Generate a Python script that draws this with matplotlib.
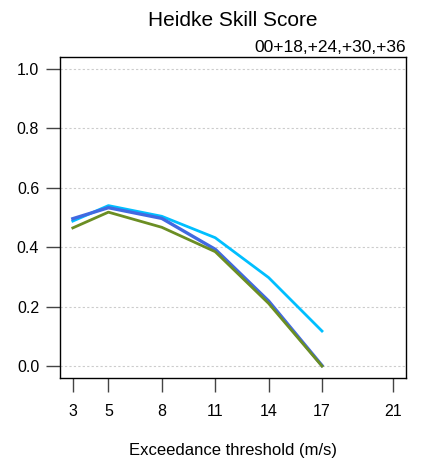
import matplotlib
matplotlib.use("Agg")
import matplotlib.pyplot as plt

plt.rcParams['font.family'] = ['Liberation Sans', 'DejaVu Sans']

thresholds = [3, 5, 8, 11, 14, 17]
xticks = [3, 5, 8, 11, 14, 17, 21]
yticks = [0.0, 0.2, 0.4, 0.6, 0.8, 1.0]
series_cyan = [0.488, 0.540, 0.504, 0.432, 0.298, 0.118]
series_blue = [0.496, 0.533, 0.497, 0.393, 0.219, 0.002]
series_green = [0.465, 0.518, 0.467, 0.385, 0.211, 0.0]

fig = plt.figure(figsize=(4.23, 4.61), dpi=100)
ax = fig.add_axes([60/423, 1-378/461, 346/423, 321/461])

for yv in yticks:
    ax.axhline(yv, color='#cccccc', lw=0.8, ls=(0, (2, 2)), zorder=0)

ax.plot(thresholds, series_green, color='#6B8E23', lw=2.0, zorder=3)
ax.plot(thresholds, series_blue, color='#4169E1', lw=2.4, zorder=2)
ax.plot(thresholds, series_cyan, color='#00BFFF', lw=2.0, zorder=1)

ax.set_xlim(3 - 0.72, 21 + 0.72)
ax.set_ylim(-0.04, 1.04)
ax.set_xticks(xticks)
ax.set_xticklabels([str(v) for v in xticks])
ax.set_yticks(yticks)
ax.set_yticklabels([f"{v:.1f}" for v in yticks])
for s in ax.spines.values():
    s.set_linewidth(1.0)
    s.set_color('black')
ax.tick_params(axis='x', length=10, width=1, color='#444444', labelsize=11.5, pad=9)
ax.tick_params(axis='y', length=10, width=1, color='#444444', labelsize=11.5, pad=5)

fig.text(233/423, 1-20/461, "Heidke Skill Score", ha='center', va='center', fontsize=15)
fig.text(406/423, 1-47/461, "00+18,+24,+30,+36", ha='right', va='center', fontsize=12.5)
fig.text(233/423, 1-450/461, "Exceedance threshold (m/s)", ha='center', va='center', fontsize=12)

fig.savefig("out.png", dpi=100)
